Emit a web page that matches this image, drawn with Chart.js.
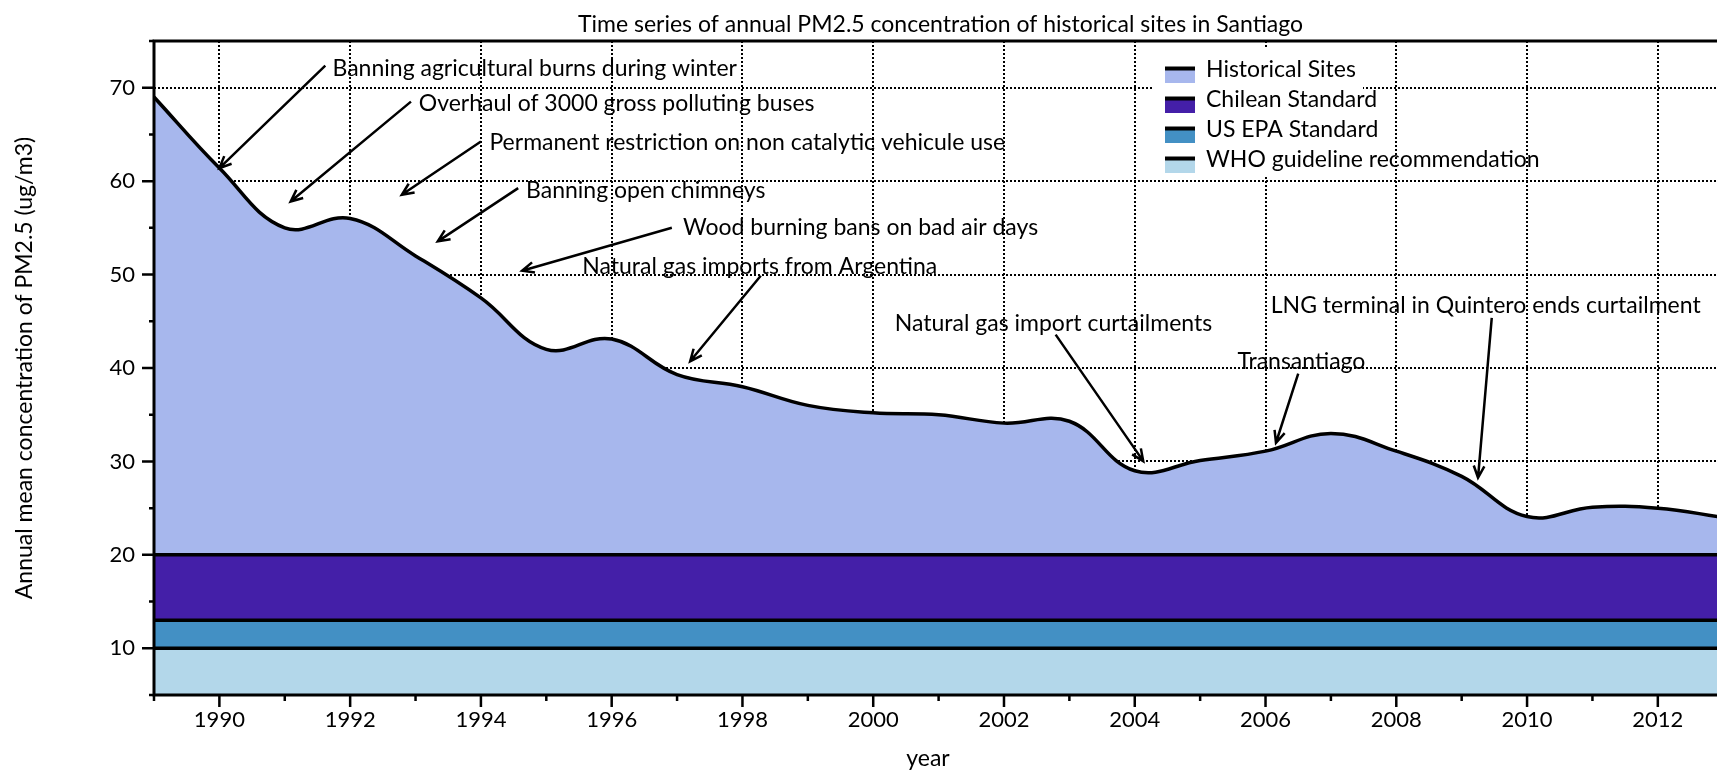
<!DOCTYPE html>
<html>
<head>
<meta charset="utf-8">
<title>PM2.5 Santiago</title>
<script src="https://cdn.jsdelivr.net/npm/chart.js@4.4.0/dist/chart.umd.min.js"></script>
<style>
    html, body { margin: 0; padding: 0; background: #fff; overflow: hidden; }
    #wrap { width: 1717px; height: 773px; position: relative; }
</style>
</head>
<body>
<div id="wrap"><canvas id="pm-chart"></canvas></div>
<script>
// Chart.js default configuration
Chart.defaults.font.family = "Lato, 'Open Sans', sans-serif";
Chart.defaults.color = '#000';

// Data
const YEARS = [1989, 1990, 1991, 1992, 1993, 1994, 1995, 1996, 1997, 1998, 1999, 2000,
    2001, 2002, 2003, 2004, 2005, 2006, 2007, 2008, 2009, 2010, 2011, 2012, 2013];
const HISTORICAL_PM25 = [69.0, 61.4, 55.0, 56.0, 52.0, 47.5, 42.0, 43.1, 39.3, 38.0, 36.0, 35.2,
    35.0, 34.1, 34.3, 29.0, 30.1, 31.1, 33.0, 31.1, 28.4, 24.1, 25.1, 25.0, 24.0];

// Standards, drawn as flat bands
const STANDARD_NAMES = ['Chilean Standard', 'US EPA Standard', 'WHO guideline recommendation'];
const STANDARD_LEVELS = [20, 13, 10];

const X_RANGE = [1989, 2012.905];
const Y_RANGE = [5, 75];
const X_TICKS = [1990, 1992, 1994, 1996, 1998, 2000, 2002, 2004, 2006, 2008, 2010, 2012];
const Y_TICKS = [10, 20, 30, 40, 50, 60, 70];

const COLORS = {
    historical: '#a7b7ed',
    chilean: '#441fa8',
    epa: '#4390c4',
    who: '#b3d7ea',
};
const BAND_COLORS = [COLORS.chilean, COLORS.epa, COLORS.who];

const LEGEND_LABELS = ['Historical Sites', 'Chilean Standard', 'US EPA Standard', 'WHO guideline recommendation'];
const LEGEND_COLORS = [COLORS.historical, COLORS.chilean, COLORS.epa, COLORS.who];

// Annotations: text anchor (left, baseline) and arrow tail -> head, in data units (year, ug/m3)
const NOTE_TEXTS = [
    'Banning agricultural burns during winter',
    'Overhaul of 3000 gross polluting buses',
    'Permanent restriction on non catalytic vehicule use',
    'Banning open chimneys',
    'Wood burning bans on bad air days',
    'Natural gas imports from Argentina',
    'Natural gas import curtailments',
    'Transantiago',
    'LNG terminal in Quintero ends curtailment',
];
const NOTE_TEXT_AT = [
    [1991.73, 71.26], [1993.05, 67.52], [1994.13, 63.35], [1994.69, 58.19], [1997.09, 54.2],
    [1995.55, 50.1], [2000.33, 43.93], [2005.57, 39.9], [2006.08, 45.89],
];
const NOTE_ARROW_FROM = [
    [1991.62, 72.36], [1992.93, 68.51], [1994.00, 64.24], [1994.57, 59.25], [1996.92, 55.01],
    [1998.28, 49.88], [2002.79, 43.57], [2006.50, 39.40], [2009.46, 45.36],
];
const NOTE_ARROW_TO = [
    [1990.00, 61.39], [1991.09, 57.82], [1992.79, 58.54], [1993.34, 53.55], [1994.63, 50.41],
    [1997.20, 40.72], [2004.13, 30.03], [2006.16, 32.00], [2009.25, 28.25],
];

const TEXT_FONT = "23px Lato, 'Open Sans', sans-serif";

function drawArrow(ctx, x1, y1, x2, y2) {
    const ang = Math.atan2(y2 - y1, x2 - x1);
    const head = 13;
    const spread = 0.42;
    ctx.beginPath();
    ctx.moveTo(x1, y1);
    ctx.lineTo(x2, y2);
    ctx.moveTo(x2 - head * Math.cos(ang - spread), y2 - head * Math.sin(ang - spread));
    ctx.lineTo(x2, y2);
    ctx.lineTo(x2 - head * Math.cos(ang + spread), y2 - head * Math.sin(ang + spread));
    ctx.stroke();
}

const decorations = {
    id: 'decorations',
    beforeDatasetsDraw(chart) {
        // white legend frame hides the grid behind it
        const ctx = chart.ctx;
        ctx.save();
        ctx.fillStyle = '#fff';
        ctx.fillRect(1153, 47, 210, 129);
        ctx.restore();
    },
    afterDraw(chart) {
        const {ctx, chartArea: a, scales} = chart;
        const x = scales.x;
        const y = scales.y;
        ctx.save();
        ctx.strokeStyle = '#000';
        ctx.fillStyle = '#000';

        // axes frame
        ctx.lineWidth = 3;
        ctx.beginPath();
        ctx.moveTo(a.left, a.bottom);
        ctx.lineTo(a.left, a.top);
        ctx.lineTo(a.right, a.top);
        ctx.moveTo(a.left - 1.5, a.bottom);
        ctx.lineTo(a.right, a.bottom);
        ctx.stroke();

        // major and minor ticks
        ctx.lineWidth = 2.5;
        ctx.beginPath();
        for (let yr = X_RANGE[0]; yr <= X_RANGE[1]; yr++) {
            const px = x.getPixelForValue(yr);
            const len = X_TICKS.includes(yr) ? 12 : 6;
            ctx.moveTo(px, a.bottom);
            ctx.lineTo(px, a.bottom + len);
        }
        for (let v = Y_RANGE[0]; v <= Y_RANGE[1]; v += 5) {
            const py = y.getPixelForValue(v);
            const len = Y_TICKS.includes(v) ? 12 : 5;
            ctx.moveTo(a.left, py);
            ctx.lineTo(a.left - len, py);
        }
        ctx.stroke();

        // title and axis titles
        ctx.font = TEXT_FONT;
        ctx.textBaseline = 'alphabetic';
        ctx.textAlign = 'left';
        ctx.fillText('Time series of annual PM2.5 concentration of historical sites in Santiago', 578, 31.5);
        ctx.textAlign = 'center';
        ctx.fillText('year', 928, 766);
        ctx.save();
        ctx.translate(32, 368);
        ctx.rotate(-Math.PI / 2);
        ctx.fillText('Annual mean concentration of PM2.5 (ug/m3)', 0, 0);
        ctx.restore();

        // legend
        ctx.textAlign = 'left';
        LEGEND_LABELS.forEach((label, i) => {
            const top = 68.5 + 30 * i;
            ctx.fillStyle = LEGEND_COLORS[i];
            ctx.fillRect(1165, top, 30, 14.5);
            ctx.fillStyle = '#000';
            ctx.fillRect(1165, top - 2, 30, 4);
            ctx.fillText(label, 1206, 76.7 + 30 * i);
        });

        // annotations
        ctx.lineWidth = 2.5;
        NOTE_TEXTS.forEach((text, i) => {
            const [tx, ty] = NOTE_TEXT_AT[i];
            ctx.fillText(text, x.getPixelForValue(tx), y.getPixelForValue(ty));
            const [fx, fy] = NOTE_ARROW_FROM[i];
            const [hx, hy] = NOTE_ARROW_TO[i];
            drawArrow(ctx, x.getPixelForValue(fx), y.getPixelForValue(fy),
                x.getPixelForValue(hx), y.getPixelForValue(hy));
        });
        ctx.restore();
    }
};

function createBandDataset(label, level, color, order) {
    return {
        label: label,
        data: [{x: YEARS[0], y: level}, {x: YEARS[YEARS.length - 1], y: level}],
        backgroundColor: color,
        borderColor: '#000',
        borderWidth: 3.5,
        fill: 'start',
        pointRadius: 0,
        order: order,
    };
}

function renderChart() {
    const ctx = document.getElementById('pm-chart').getContext('2d');
    const datasets = [{
        label: 'Historical Sites',
        data: YEARS.map((yr, i) => ({x: yr, y: HISTORICAL_PM25[i]})),
        backgroundColor: COLORS.historical,
        borderColor: '#000',
        borderWidth: 3.5,
        fill: 'start',
        tension: 0.4,
        pointRadius: 0,
        order: 4,
    }];
    STANDARD_NAMES.forEach((name, i) => {
        datasets.push(createBandDataset(name, STANDARD_LEVELS[i], BAND_COLORS[i], 3 - i));
    });

    return new Chart(ctx, {
        type: 'line',
        data: {datasets: datasets},
        options: {
            responsive: true,
            maintainAspectRatio: false,
            animation: false,
            devicePixelRatio: 1,
            layout: {padding: {top: 41, left: 0, right: 0, bottom: 0}},
            plugins: {
                legend: {display: false},
                tooltip: {enabled: false},
            },
            scales: {
                x: {
                    type: 'linear',
                    min: X_RANGE[0],
                    max: X_RANGE[1],
                    afterBuildTicks: scale => {
                        scale.ticks = X_TICKS.map(v => ({value: v}));
                    },
                    afterFit: scale => {
                        scale.height = 78;
                    },
                    ticks: {
                        autoSkip: false,
                        maxRotation: 0,
                        padding: 12,
                        font: {size: 22},
                        callback: v => String(v),
                    },
                    grid: {
                        color: '#000',
                        lineWidth: 2,
                        drawTicks: false,
                    },
                    border: {display: false, dash: [2, 2]},
                },
                y: {
                    min: Y_RANGE[0],
                    max: Y_RANGE[1],
                    afterBuildTicks: scale => {
                        scale.ticks = Y_TICKS.map(v => ({value: v}));
                    },
                    afterFit: scale => {
                        scale.width = 154;
                    },
                    ticks: {
                        padding: 19,
                        font: {size: 22},
                    },
                    grid: {
                        color: '#000',
                        lineWidth: 2,
                        drawTicks: false,
                    },
                    border: {display: false, dash: [2, 2]},
                },
            },
        },
        plugins: [decorations],
    });
}

renderChart();
</script>
</body>
</html>
